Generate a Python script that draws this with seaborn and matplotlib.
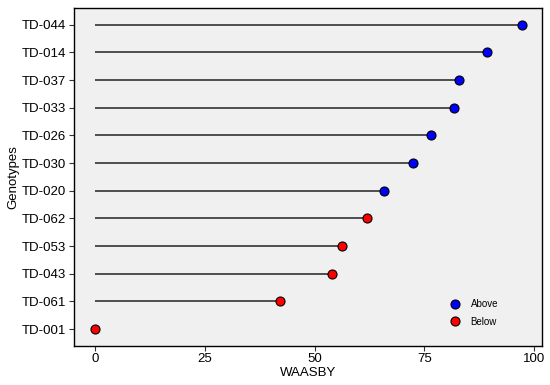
import numpy as np
import pandas as pd
import matplotlib
matplotlib.use("Agg")
import matplotlib.pyplot as plt
import seaborn as sns

# Genotypes ordered top to bottom
genotypes = ["TD-044", "TD-014", "TD-037", "TD-033", "TD-026", "TD-030",
             "TD-020", "TD-062", "TD-053", "TD-043", "TD-061", "TD-001"]
waasby = [97.2, 89.4, 83.0, 81.8, 76.6, 72.4, 65.8, 61.9, 56.2, 53.9, 42.1, 0.0]
group = ["Above"] * 7 + ["Below"] * 5
group_order = ["Above", "Below"]
group_colors = {"Above": "#0000FF", "Below": "#FF0000"}

df = pd.DataFrame({"Genotypes": genotypes, "WAASBY": waasby, "group": group})

sns.set_style("ticks")
plt.rcParams["font.family"] = ["Liberation Sans", "DejaVu Sans"]

fig = plt.figure(figsize=(5.5, 3.85), dpi=100)
ax = fig.add_axes([0.1345, 0.1023, 0.851, 0.8767])
ax.set_facecolor("#F0F0F0")

# lollipop stems from zero to value
ax.hlines(y=np.arange(len(genotypes)), xmin=0, xmax=df["WAASBY"],
          color="#222222", linewidth=1.1, zorder=1)

sns.stripplot(data=df, x="WAASBY", y="Genotypes", hue="group",
              hue_order=group_order, palette=group_colors, order=genotypes,
              jitter=False, size=6.5, edgecolor="black", linewidth=0.8,
              ax=ax, zorder=3)

ax.set_xlim(-4.85, 101.85)
ax.set_ylim(len(genotypes) - 1 + 0.6, -0.6)
ax.set_xticks([0, 25, 50, 75, 100])

for s in ax.spines.values():
    s.set_visible(True)
    s.set_color("black")
    s.set_linewidth(1.0)

ax.tick_params(axis="both", labelsize=9.5, length=3.5, width=0.8,
               color="#333333", labelcolor="black", pad=2)
ax.set_xlabel("WAASBY", fontsize=9.5, labelpad=1, color="black")
ax.set_ylabel("Genotypes", fontsize=9.5, labelpad=2, color="black")

leg = ax.legend(loc="lower right", bbox_to_anchor=(0.925, 0.03), frameon=False,
                fontsize=7, title=None, handletextpad=0.6, labelspacing=0.8,
                markerscale=1.0)
for t in leg.get_texts():
    t.set_color("black")

fig.savefig("out.png", dpi=100)
